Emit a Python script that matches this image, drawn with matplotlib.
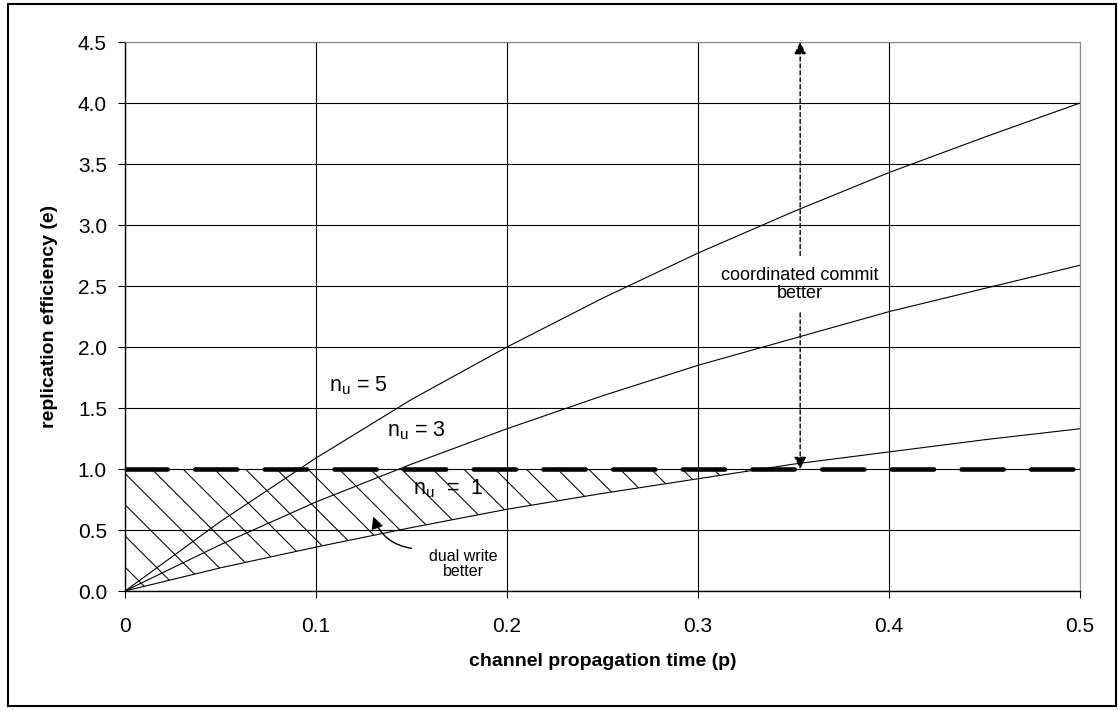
import numpy as np
import matplotlib
matplotlib.use("Agg")
import matplotlib.pyplot as plt
from matplotlib.patches import Rectangle
from matplotlib.collections import LineCollection

plt.rcParams["font.family"] = ["Liberation Sans", "DejaVu Sans"]
plt.rcParams["mathtext.fontset"] = "custom"
plt.rcParams["mathtext.rm"] = "Liberation Sans"

# channel propagation time (p)
p = [0.0, 0.05, 0.1, 0.15, 0.2, 0.25, 0.3, 0.35, 0.4, 0.45, 0.5]
# replication efficiency
e_n5 = [0.0, 0.57, 1.09, 1.57, 2.0, 2.4, 2.77, 3.11, 3.43, 3.72, 4.0]
e_n3 = [0.0, 0.38, 0.73, 1.04, 1.33, 1.6, 1.85, 2.07, 2.29, 2.48, 2.67]
e_n1 = [0.0, 0.19, 0.36, 0.52, 0.67, 0.8, 0.92, 1.04, 1.14, 1.24, 1.33]
threshold = [1.0] * len(p)

x_ticks = [0, 0.1, 0.2, 0.3, 0.4, 0.5]
x_tick_labels = ["0", "0.1", "0.2", "0.3", "0.4", "0.5"]
y_ticks = [0.0, 0.5, 1.0, 1.5, 2.0, 2.5, 3.0, 3.5, 4.0, 4.5]


def main():
    fig = plt.figure(figsize=(11.18, 7.1), dpi=100)
    # outer border of the chart area
    fig.patches.append(Rectangle((0.007, 0.006), 0.991, 0.988, transform=fig.transFigure,
                                 fill=False, edgecolor="black", linewidth=1.5))
    ax = fig.add_axes([0.1118, 0.1676, 0.8542, 0.7732])
    ax.set_xlim(0, 0.5)
    ax.set_ylim(0, 4.5)

    ax.grid(True, color="black", linewidth=0.8)
    ax.set_axisbelow(True)
    for side in ["top", "right"]:
        ax.spines[side].set_color("#888888")
    for side in ["left", "bottom"]:
        ax.spines[side].set_linewidth(1.0)

    # hatched region: n_u = 1 line below 1.0
    p_arr = np.array(p)
    n1 = np.array(e_n1)
    fine_p = np.linspace(0, 0.5, 501)
    fine_n1 = np.interp(fine_p, p_arr, n1)
    region = ax.fill_between(fine_p, fine_n1, 1.0, where=fine_n1 <= 1.0,
                             facecolor="none", edgecolor="none")
    clip = region.get_paths()[0]

    # hatch lines at 45 degrees in pixel space, ~31 px apart
    bbox = ax.get_window_extent(fig.canvas.get_renderer())
    sx = bbox.width / 0.5
    sy = bbox.height / 4.5
    step = 31.2 / sx
    drop = sy / sx
    segs = []
    xt = 0.014 - 12 * step
    while xt < 0.36:
        segs.append([(xt, 1.0), (xt + drop, 0.0)])
        xt += step
    hatch = LineCollection(segs, colors="black", linewidths=0.75)
    ax.add_collection(hatch)
    hatch.set_clip_path(clip, ax.transData)

    for vals in [e_n5, e_n3, e_n1]:
        ax.plot(p, vals, color="black", linewidth=0.8)

    ax.plot(p, threshold, color="black", linewidth=3.3, dash_capstyle="round",
            linestyle=(0, (9.2, 6.0)))

    ax.set_xticks(x_ticks)
    ax.set_xticklabels(x_tick_labels)
    ax.set_yticks(y_ticks)
    ax.set_yticklabels([f"{v:.1f}" for v in y_ticks])
    ax.tick_params(direction="out", length=5, width=0.8, labelsize=15, pad=8)
    ax.tick_params(axis="x", pad=14)

    ax.set_xlabel("channel propagation time (p)", fontsize=14, fontweight="bold", labelpad=12)
    ax.set_ylabel("replication efficiency (e)", fontsize=14, fontweight="bold", labelpad=14)

    # curve labels
    ax.text(0.107, 1.68, r"n$_\mathregular{u}$ = 5", fontsize=15.5, va="center")
    ax.text(0.137, 1.31, r"n$_\mathregular{u}$ = 3", fontsize=15.5, va="center")
    ax.text(0.151, 0.84, r"n$_\mathregular{u}$  =  1", fontsize=15.5, va="center")

    # coordinated commit annotation
    ax.text(0.3535, 2.51, "coordinated commit\nbetter", fontsize=13, ha="center", va="center",
            linespacing=1.1)
    ax.annotate("", xy=(0.3535, 4.5), xytext=(0.3535, 2.75),
                arrowprops=dict(arrowstyle="-|>", linestyle=(0, (3, 2)), color="black",
                                linewidth=1.0, mutation_scale=18, shrinkA=0, shrinkB=0))
    ax.annotate("", xy=(0.3535, 1.0), xytext=(0.3535, 2.28),
                arrowprops=dict(arrowstyle="-|>", linestyle=(0, (3, 2)), color="black",
                                linewidth=1.0, mutation_scale=18, shrinkA=0, shrinkB=0))

    # dual write annotation
    ax.text(0.177, 0.22, "dual write\nbetter", fontsize=11.5, ha="center", va="center",
            linespacing=1.0)
    ax.annotate("", xy=(0.130, 0.61), xytext=(0.150, 0.35),
                arrowprops=dict(arrowstyle="-|>", color="black", linewidth=1.0,
                                mutation_scale=18, shrinkA=0, shrinkB=0,
                                connectionstyle="arc3,rad=-0.3"))

    fig.savefig("out.png", dpi=100)


if __name__ == "__main__":
    main()
